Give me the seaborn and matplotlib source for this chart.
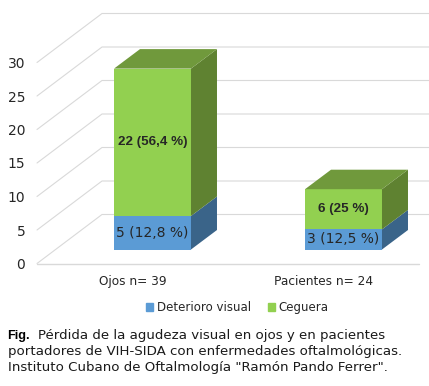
import pandas as pd
import seaborn as sns
from matplotlib import pyplot as plt
from matplotlib.patches import Patch
from matplotlib.transforms import ScaledTranslation

categories = ["Ojos n= 39", "Pacientes n= 24"]
deterioro = [5, 3]
ceguera = [22, 6]
deterioro_labels = ["5 (12,8 %)", "3 (12,5 %)"]
ceguera_labels = ["22 (56,4 %)", "6 (25 %)"]
y_ticks = [0, 5, 10, 15, 20, 25, 30]

W, H, DPI = 429, 386, 100
WALL_DX, WALL_DY = 65, 49   # depth of the floor, in pixels
BAR_DX, BAR_DY = 20, 14     # how far the bars stand from the front edge
SIDE_DX, SIDE_DY = 26, 19.5 # depth of the bars

BLUE, BLUE_SIDE = "#5B9BD5", "#3A6489"
GREEN, GREEN_TOP, GREEN_SIDE = "#92D050", "#70993C", "#5F8231"
GRID = "#D9D9D9"
TEXT = "#262626"

sns.set_theme(style="white")
plt.rcParams["font.family"] = ["DejaVu Sans"]

data = pd.DataFrame({"cat": categories, "deterioro": deterioro, "ceguera": ceguera})

fig = plt.figure(figsize=(W / DPI, H / DPI), dpi=DPI)
ax = fig.add_axes([37 / W, 1 - 263.5 / H, 382 / W, 201 / H])

sns.barplot(data=data, x="cat", y="deterioro", color=BLUE, width=0.403, saturation=1, ax=ax, zorder=3)
n_first = len(ax.patches)
sns.barplot(data=data, x="cat", y="ceguera", bottom=data["deterioro"], color=GREEN, width=0.403,
            saturation=1, ax=ax, zorder=3)

ax.set_xlim(-0.5, 1.5)
ax.set_ylim(0, 30)
ax.set_xlabel("")
ax.set_ylabel("")
ax.set_yticks(y_ticks)
sns.despine(ax=ax, left=True, bottom=True, top=True, right=True)
ax.tick_params(axis="y", length=0, pad=8.5, labelsize=10, labelcolor=TEXT)
ax.tick_params(axis="x", length=0, pad=8, labelsize=8.7, labelcolor=TEXT)


def shifted(dx, dy):
    return ax.transData + ScaledTranslation(dx / DPI, dy / DPI, fig.dpi_scale_trans)


# walls: diagonal on the left, horizontal at the back
front = ax.get_yaxis_transform()
for t in y_ticks:
    back = front + ScaledTranslation(WALL_DX / DPI, WALL_DY / DPI, fig.dpi_scale_trans)
    x0, y0 = front.transform((0, t))
    x1, y1 = back.transform((0, t))
    x2, y2 = back.transform((1, t))
    ax.plot([x0, x1, x2], [y0, y1, y2], transform=None, color=GRID, lw=0.8, zorder=1, clip_on=False)
ax.plot([0, 1], [0, 0], transform=front, color=GRID, lw=1, zorder=2, clip_on=False)

# bars sit a little into the floor, so move them and add the depth faces
to_bar = shifted(BAR_DX, BAR_DY)
to_back = shifted(BAR_DX + SIDE_DX, BAR_DY + SIDE_DY)
for i, bar in enumerate(ax.patches[:]):
    bar.set_transform(to_bar)
    bar.set_clip_on(False)
    bar.set_linewidth(0)
    x0 = bar.get_x()
    x1 = x0 + bar.get_width()
    y0 = bar.get_y()
    y1 = y0 + bar.get_height()
    p = [to_bar.transform(c) for c in [(x1, y0), (x1, y1)]] + [to_back.transform(c) for c in [(x1, y1), (x1, y0)]]
    ax.fill([c[0] for c in p], [c[1] for c in p], transform=None, zorder=3,
            color=BLUE_SIDE if i < n_first else GREEN_SIDE, lw=0, clip_on=False)
    if i >= n_first:
        p = [to_bar.transform(c) for c in [(x0, y1), (x1, y1)]] + [to_back.transform(c) for c in [(x1, y1), (x0, y1)]]
        ax.fill([c[0] for c in p], [c[1] for c in p], transform=None, zorder=3,
                color=GREEN_TOP, lw=0, clip_on=False)

for i in range(len(categories)):
    ax.text(i, deterioro[i] / 2, deterioro_labels[i], transform=to_bar, ha="center", va="center",
            fontsize=10, color=TEXT, zorder=5)
    ax.text(i, deterioro[i] + ceguera[i] / 2, ceguera_labels[i], transform=to_bar, ha="center", va="center",
            fontsize=9.6, fontweight="bold", family="Liberation Sans", color=TEXT, zorder=5)

handles = [Patch(color=BLUE, label="Deterioro visual"), Patch(color=GREEN, label="Ceguera")]
fig.legend(handles=handles, ncol=2, loc="center", bbox_to_anchor=(237.5 / W, 1 - 307.5 / H), frameon=False,
           fontsize=8.5, handlelength=0.6, handleheight=0.6, handletextpad=0.3, columnspacing=1.45,
           labelcolor=TEXT, borderpad=0)

fig.text(7 / W, 1 - 336 / H, "Fig.", fontsize=9.2, fontweight="bold", family="Liberation Sans", color="black",
         va="center")
fig.text(38 / W, 1 - 336 / H, "Pérdida de la agudeza visual en ojos y en pacientes", fontsize=9.65,
         color="#1a1a1a", va="center")
fig.text(8 / W, 1 - 351.5 / H, "portadores de VIH-SIDA con enfermedades oftalmológicas.", fontsize=9.65,
         color="#1a1a1a", va="center")
fig.text(8 / W, 1 - 367.5 / H, 'Instituto Cubano de Oftalmología "Ramón Pando Ferrer".', fontsize=9.65,
         color="#1a1a1a", va="center")

fig.savefig("out.png", dpi=DPI)
